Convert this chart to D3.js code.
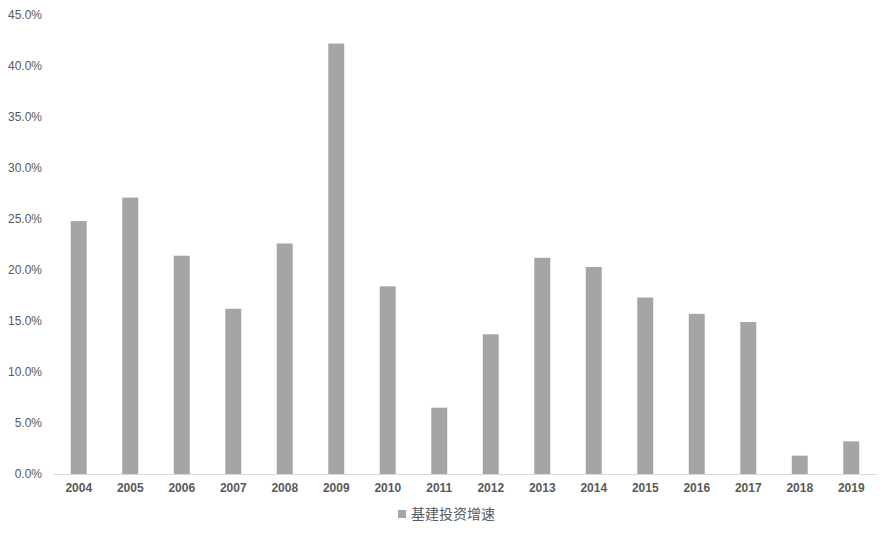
<!DOCTYPE html>
<html>
<head>
<meta charset="utf-8">
<script src="https://cdn.jsdelivr.net/npm/d3@7"></script>
<style>
  body { margin: 0; background: #fff; }
  .tick text { font-family: Arial, "Liberation Sans", sans-serif; fill: #595959; }
</style>
</head>
<body>
<div id="chart"></div>
<script>
var years = ["2004", "2005", "2006", "2007", "2008", "2009", "2010", "2011",
             "2012", "2013", "2014", "2015", "2016", "2017", "2018", "2019"];
var growth = [24.8, 27.1, 21.4, 16.2, 22.6, 42.2, 18.4, 6.5,
              13.7, 21.2, 20.3, 17.3, 15.7, 14.9, 1.8, 3.2];
var yTicks = [0, 5, 10, 15, 20, 25, 30, 35, 40, 45];
var seriesName = "基建投资增速";

var width = 891, height = 536;
var margin = { left: 53, right: 14, top: 15, bottom: 62 };

var svg = d3.select("#chart").append("svg")
    .attr("width", width)
    .attr("height", height);

var x = d3.scaleBand()
    .domain(years)
    .range([margin.left, width - margin.right])
    .paddingInner(0.69)
    .paddingOuter(0.345);

var y = d3.scaleLinear()
    .domain([0, 45])
    .range([height - margin.bottom, margin.top]);

// bars
svg.selectAll(".bar")
    .data(growth)
    .enter().append("rect")
    .attr("class", "bar")
    .attr("x", function(d, i) { return x(years[i]); })
    .attr("y", function(d) { return y(d); })
    .attr("width", x.bandwidth())
    .attr("height", function(d) { return y(0) - y(d); })
    .style("fill", "#a5a5a5");

// y axis, labels only
var yAxis = svg.append("g")
    .attr("transform", "translate(" + (margin.left - 11) + ",0)")
    .call(d3.axisLeft(y).tickValues(yTicks).tickSize(0)
      .tickFormat(function(d) { return d.toFixed(1) + "%"; }));
yAxis.select(".domain").remove();
yAxis.selectAll("text").attr("x", 0).style("font-size", "12px");

// x axis
var xAxis = svg.append("g")
    .attr("transform", "translate(0," + y(0) + ")")
    .call(d3.axisBottom(x).tickSize(0).tickPadding(9));
xAxis.select(".domain")
    .attr("d", "M" + margin.left + ",0.5H" + (width - margin.right))
    .style("stroke", "#d9d9d9");
xAxis.selectAll("text")
    .style("font-size", "12px")
    .style("font-weight", "bold");

// legend
var legend = svg.append("g")
    .attr("transform", "translate(398,510)");
legend.append("rect")
    .attr("width", 8).attr("height", 8)
    .attr("y", 0)
    .style("fill", "#a5a5a5");
legend.append("text")
    .attr("x", 13).attr("y", 9)
    .style("font-family", "'Noto Sans CJK SC', sans-serif")
    .style("font-size", "14px")
    .style("fill", "#595959")
    .text(seriesName);
</script>
</body>
</html>
